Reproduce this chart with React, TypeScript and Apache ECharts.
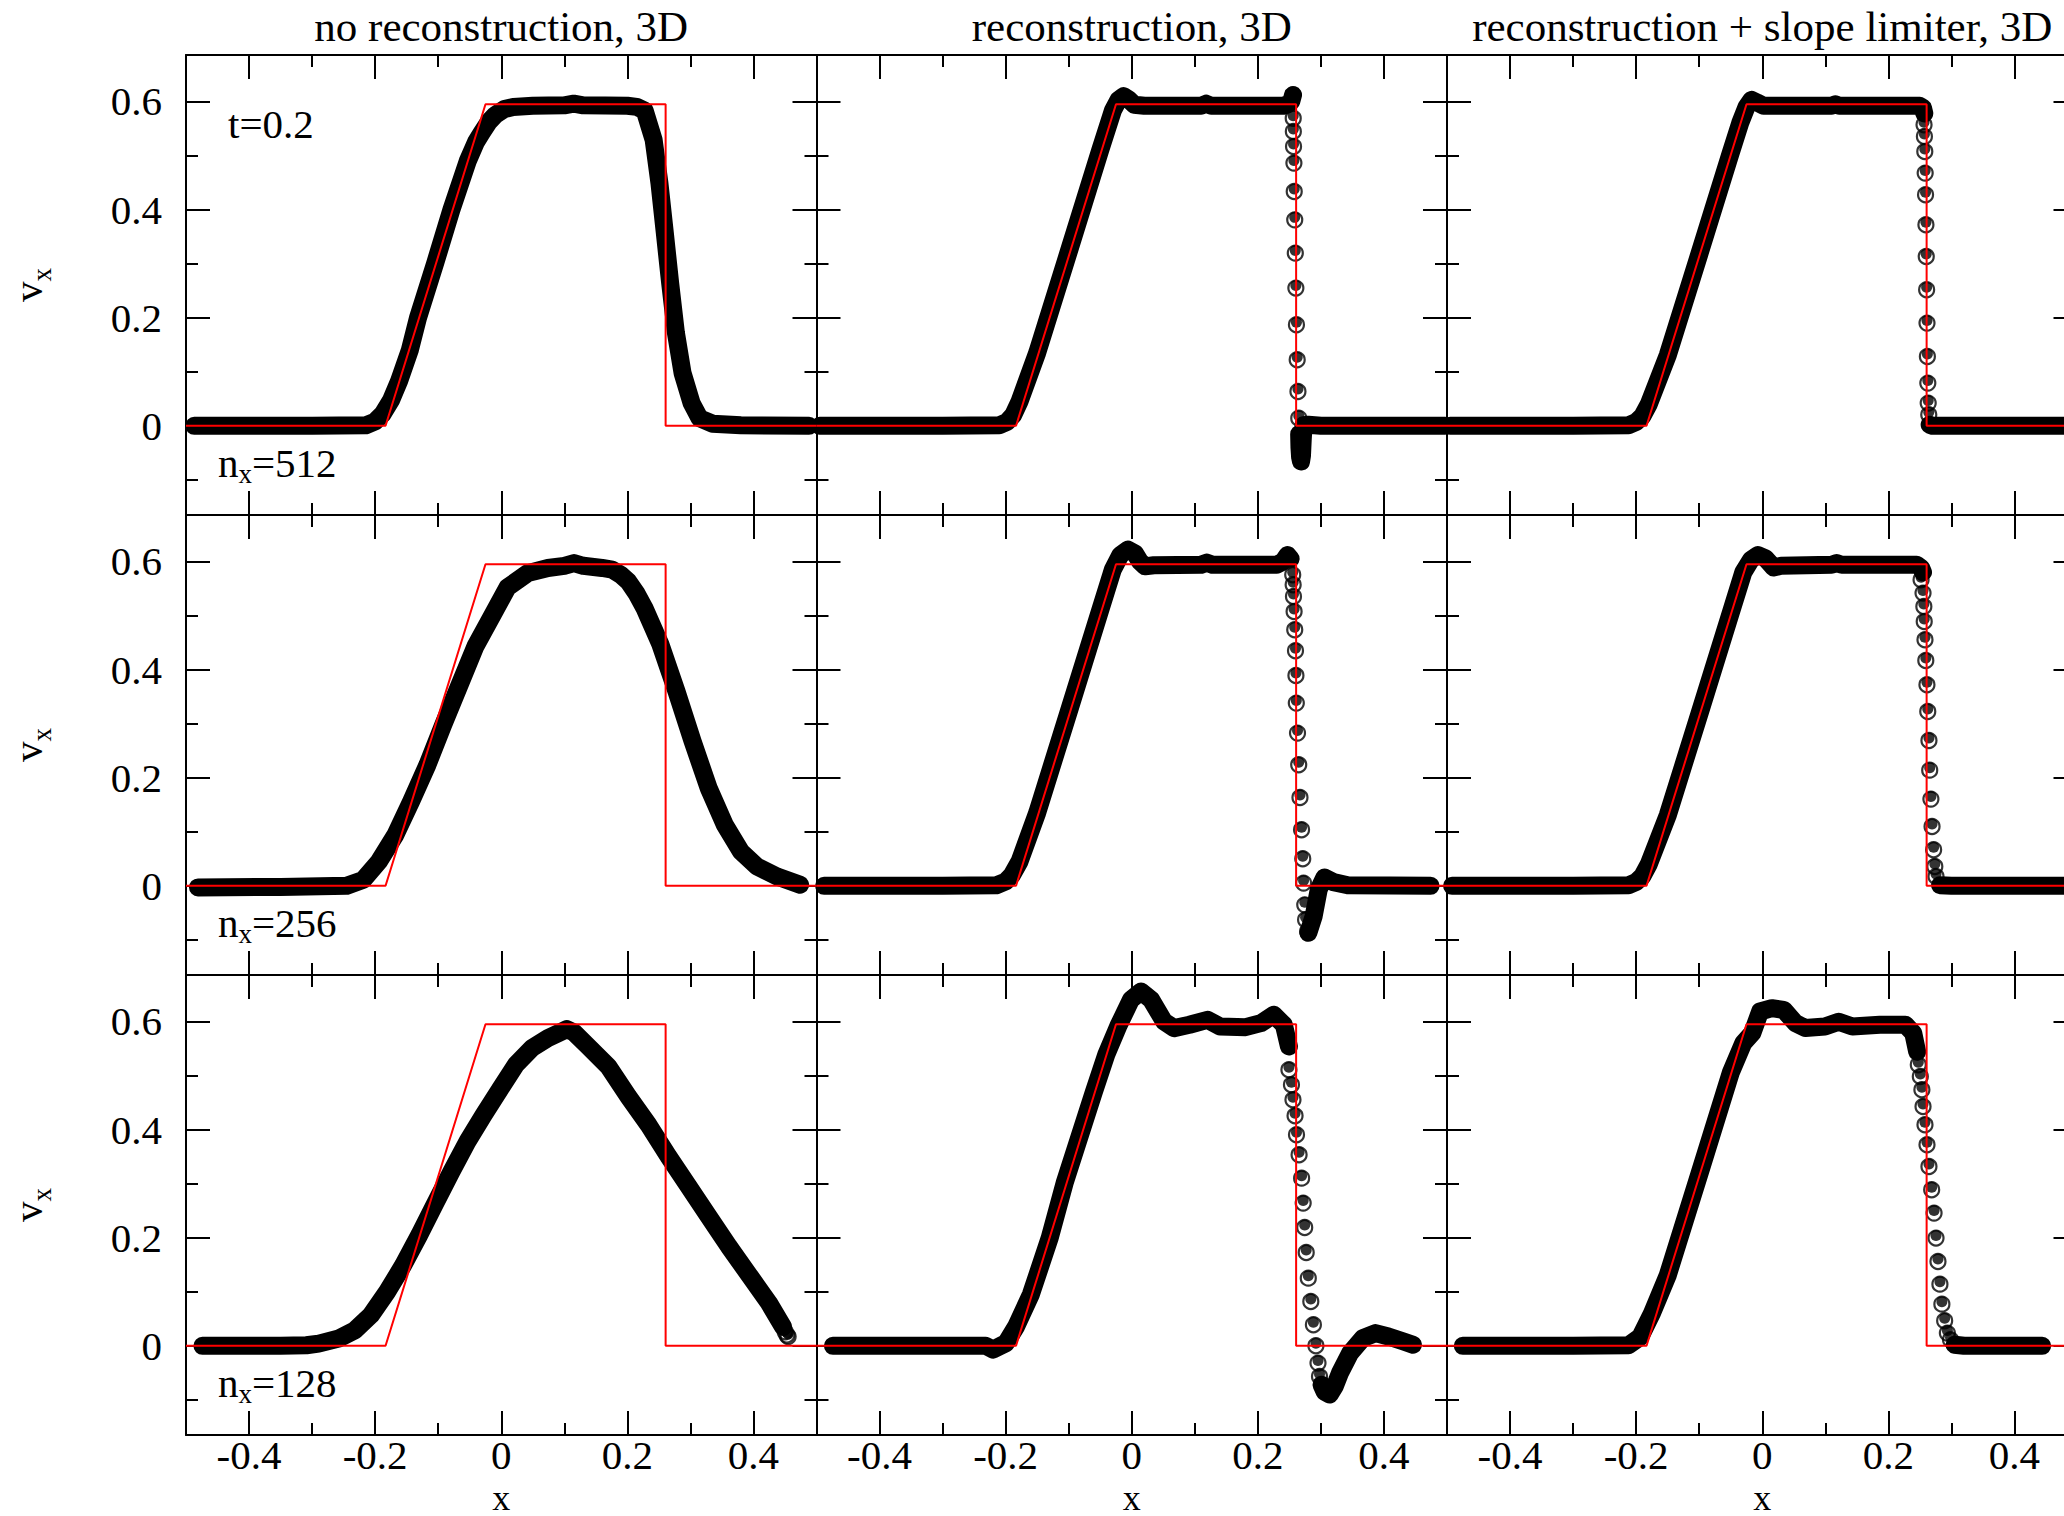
import React, { useEffect, useRef } from 'react';
import * as echarts from 'echarts';

// ---------- axes ----------
const X_MIN = -0.5;
const X_MAX = 0.5;
const Y_MIN = -0.165;
const Y_MAX = 0.686;
const X_MAJOR_TICKS = [-0.4, -0.2, 0, 0.2, 0.4];
const X_MINOR_TICKS = [-0.3, -0.1, 0.1, 0.3];
const Y_MAJOR_TICKS = [0, 0.2, 0.4, 0.6];
const Y_MINOR_TICKS = [-0.1, 0.1, 0.3, 0.5];

// ---------- texts ----------
const COLUMN_TITLES = ['no reconstruction, 3D', 'reconstruction, 3D', 'reconstruction + slope limiter, 3D'];
const ROW_RESOLUTIONS = ['512', '256', '128'];
const TIME_LABEL = 't=0.2';
const X_NAME = 'x';

// ---------- exact solution (red) ----------
const EXACT_X = [-0.5, -0.1835, -0.025, 0.2607, 0.2607, 0.5];
const EXACT_Y = [0, 0, 0.595, 0.595, 0, 0];

// ---------- numerical solution, n_x = 512 ----------
const BAND_512_NONE = [[
  [-0.487, 0], [-0.3, 0], [-0.215, 0.001], [-0.2, 0.008], [-0.188, 0.022], [-0.175, 0.047], [-0.162, 0.083],
  [-0.145, 0.14], [-0.132, 0.2], [-0.105, 0.3], [-0.079, 0.4], [-0.053, 0.49], [-0.04, 0.525], [-0.031, 0.542],
  [-0.02, 0.562], [-0.0095, 0.575], [0.005, 0.586], [0.019, 0.59], [0.05, 0.592], [0.1, 0.593], [0.115, 0.596],
  [0.13, 0.593], [0.2, 0.592], [0.215, 0.59], [0.2275, 0.583], [0.2417, 0.529], [0.2509, 0.449], [0.2594, 0.357],
  [0.2679, 0.264], [0.277, 0.172], [0.2876, 0.0975], [0.3019, 0.042], [0.3146, 0.014], [0.335, 0.004],
  [0.38, 0.001], [0.488, 0],
]];
const DOTS_512_NONE: number[][] = [];

const BAND_512_RECON = [
  [
    [-0.495, 0], [-0.3, 0], [-0.21, 0.001], [-0.198, 0.007], [-0.188, 0.02], [-0.178, 0.045], [-0.15, 0.135],
    [-0.1, 0.322], [-0.05, 0.51], [-0.03, 0.583], [-0.021, 0.603], [-0.013, 0.61], [-0.005, 0.604], [0.004, 0.594],
    [0.02, 0.592], [0.11, 0.592], [0.118, 0.596], [0.126, 0.592], [0.24, 0.592], [0.248, 0.595], [0.253, 0.6],
    [0.2558, 0.612],
  ],
  [
    [0.2655, -0.015], [0.266, -0.04], [0.267, -0.058], [0.2685, -0.066], [0.27, -0.055], [0.2712, -0.025],
    [0.2725, 0.001], [0.28, 0.002], [0.3, 0], [0.497, 0],
  ],
];
const DOTS_512_RECON = [
  [0.2561, 0.569], [0.2563, 0.5445], [0.2566, 0.5168], [0.2572, 0.486], [0.2577, 0.4335], [0.2585, 0.381],
  [0.2594, 0.3195], [0.2603, 0.2548], [0.2612, 0.1869], [0.2624, 0.1221], [0.2636, 0.0635], [0.2649, 0.0142],
];

const BAND_512_LIMITER = [
  [
    [-0.495, 0], [-0.3, 0], [-0.212, 0.001], [-0.2, 0.007], [-0.19, 0.018], [-0.18, 0.04], [-0.15, 0.13],
    [-0.1, 0.317], [-0.05, 0.505], [-0.035, 0.56], [-0.025, 0.59], [-0.017, 0.603], [-0.008, 0.598],
    [0.002, 0.592], [0.11, 0.592], [0.116, 0.595], [0.122, 0.592], [0.25, 0.592], [0.255, 0.588], [0.257, 0.578],
  ],
  [[0.2655, 0.002], [0.27, 0], [0.5, 0]],
];
const DOTS_512_LIMITER = [
  [0.2566, 0.557], [0.2572, 0.5353], [0.2578, 0.5075], [0.2584, 0.4675], [0.259, 0.4274], [0.2596, 0.3719],
  [0.2601, 0.3133], [0.2607, 0.2516], [0.2613, 0.19], [0.2619, 0.1283], [0.2626, 0.079], [0.2632, 0.042],
  [0.2641, 0.0204],
];

// ---------- numerical solution, n_x = 256 ----------
const BAND_256_NONE = [[
  [-0.481, -0.003], [-0.35, -0.002], [-0.245, 0], [-0.219, 0.011], [-0.194, 0.045], [-0.168, 0.094],
  [-0.143, 0.156], [-0.117, 0.224], [-0.092, 0.298], [-0.066, 0.372], [-0.041, 0.443], [-0.012, 0.505],
  [0.01, 0.552], [0.042, 0.5785], [0.074, 0.588], [0.1, 0.592], [0.1154, 0.597], [0.13, 0.592], [0.16, 0.588],
  [0.176, 0.585], [0.19, 0.575], [0.2015, 0.563], [0.215, 0.54], [0.227, 0.514], [0.2526, 0.446],
  [0.278, 0.3595], [0.3036, 0.267], [0.329, 0.1807], [0.3546, 0.1129], [0.38, 0.0635], [0.4056, 0.0357],
  [0.4375, 0.0172], [0.474, 0.002],
]];
const DOTS_256_NONE: number[][] = [];

const BAND_256_RECON = [
  [
    [-0.488, 0], [-0.3, 0], [-0.215, 0.001], [-0.2, 0.008], [-0.19, 0.02], [-0.178, 0.045], [-0.15, 0.135],
    [-0.1, 0.322], [-0.05, 0.51], [-0.03, 0.585], [-0.018, 0.612], [-0.006, 0.622], [0.005, 0.615],
    [0.013, 0.6], [0.021, 0.591], [0.035, 0.593], [0.11, 0.594], [0.119, 0.598], [0.128, 0.594], [0.23, 0.594],
    [0.24, 0.6], [0.247, 0.612], [0.252, 0.605],
  ],
  [
    [0.2801, -0.087], [0.2884, -0.0568], [0.2967, -0.0062], [0.3056, 0.0154], [0.32, 0.0068], [0.3426, 0.001],
    [0.474, 0],
  ],
];
const DOTS_256_RECON = [
  [0.2553, 0.5754], [0.256, 0.5569], [0.2565, 0.5353], [0.2575, 0.5075], [0.2585, 0.4736], [0.2597, 0.4348],
  [0.2604, 0.3891], [0.261, 0.338], [0.2629, 0.2825], [0.2648, 0.2239], [0.2668, 0.1634], [0.2693, 0.1036],
  [0.2712, 0.05], [0.2725, 0.005], [0.2744, -0.0352], [0.2757, -0.0629], [0.2789, -0.0845],
];

const BAND_256_LIMITER = [
  [
    [-0.492, 0], [-0.3, 0], [-0.212, 0.001], [-0.2, 0.007], [-0.19, 0.018], [-0.18, 0.04], [-0.15, 0.13],
    [-0.1, 0.317], [-0.05, 0.505], [-0.03, 0.58], [-0.018, 0.603], [-0.007, 0.612], [0.005, 0.606],
    [0.018, 0.589], [0.03, 0.592], [0.11, 0.594], [0.118, 0.597], [0.126, 0.594], [0.245, 0.594],
    [0.252, 0.588], [0.255, 0.58],
  ],
  [[0.282, 0.001], [0.3, 0], [0.497, 0]],
];
const DOTS_256_LIMITER = [
  [0.2519, 0.5661], [0.255, 0.5415], [0.2563, 0.5168], [0.2569, 0.489], [0.2581, 0.4551], [0.2594, 0.4168],
  [0.2612, 0.3719], [0.2625, 0.3225], [0.2644, 0.2689], [0.2656, 0.214], [0.2675, 0.1604], [0.2693, 0.1097],
  [0.2718, 0.0666], [0.2737, 0.0357], [0.2756, 0.0172],
];

// ---------- numerical solution, n_x = 128 ----------
const BAND_128_NONE = [[
  [-0.474, 0], [-0.35, 0], [-0.309, 0.001], [-0.2895, 0.004], [-0.2577, 0.0135], [-0.232, 0.029],
  [-0.2066, 0.057], [-0.181, 0.1], [-0.1556, 0.149], [-0.13, 0.205], [-0.1046, 0.2638], [-0.079, 0.3224],
  [-0.0536, 0.3779], [-0.028, 0.427], [-0.0026, 0.4736], [0.023, 0.5198], [0.0485, 0.5507], [0.074, 0.5692],
  [0.09, 0.578], [0.104, 0.586], [0.115, 0.58], [0.1378, 0.554], [0.1696, 0.517], [0.2015, 0.4613],
  [0.2334, 0.4089], [0.2653, 0.3503], [0.2972, 0.2948], [0.329, 0.2393], [0.361, 0.1838], [0.3929, 0.1313],
  [0.4247, 0.079], [0.447, 0.035],
]];
const DOTS_128_NONE = [[0.4503, 0.026], [0.453, 0.02], [0.455, 0.017]];

const BAND_128_RECON = [
  [
    [-0.474, 0], [-0.3, 0], [-0.2318, 0], [-0.2197, -0.007], [-0.1995, 0.005], [-0.1834, 0.0358],
    [-0.16, 0.095], [-0.13, 0.2], [-0.1065, 0.301], [-0.06, 0.47], [-0.04, 0.54], [-0.0216, 0.5908],
    [-0.0014, 0.6401], [0.0147, 0.6555], [0.0309, 0.6401], [0.0512, 0.6], [0.0673, 0.5877], [0.0916, 0.5939],
    [0.12, 0.6031], [0.1401, 0.5908], [0.1805, 0.5895], [0.2048, 0.5969], [0.2251, 0.6124], [0.2412, 0.5939],
    [0.2493, 0.5538],
  ],
  [
    [0.301, -0.072], [0.306, -0.085], [0.314, -0.09], [0.322, -0.075], [0.3301, -0.0506], [0.3463, -0.0136],
    [0.3666, 0.0142], [0.3867, 0.0235], [0.407, 0.0173], [0.4311, 0.008], [0.446, 0.002],
  ],
];
const DOTS_128_RECON = [
  [0.2493, 0.5106], [0.2533, 0.4829], [0.2557, 0.4551], [0.259, 0.4255], [0.2613, 0.3904], [0.2654, 0.3534],
  [0.2694, 0.3102], [0.2719, 0.264], [0.2743, 0.2189], [0.2767, 0.1726], [0.28, 0.1252], [0.284, 0.082],
  [0.2881, 0.0389], [0.2921, 0], [0.2954, -0.032], [0.2978, -0.0567],
];

const BAND_128_LIMITER = [
  [
    [-0.475, 0], [-0.3, 0], [-0.212, 0.001], [-0.1933, 0.0166], [-0.175, 0.06], [-0.15, 0.13], [-0.1, 0.317],
    [-0.05, 0.505], [-0.03, 0.56], [-0.0158, 0.5785], [-0.0034, 0.6185], [0.0153, 0.6247], [0.034, 0.6216],
    [0.0527, 0.597], [0.0682, 0.588], [0.0994, 0.5908], [0.1212, 0.5995], [0.143, 0.5908], [0.1865, 0.594],
    [0.227, 0.594], [0.2395, 0.5785], [0.2457, 0.544],
  ],
  [[0.305, 0.002], [0.32, 0], [0.444, 0]],
];
const DOTS_128_LIMITER = [
  [0.2475, 0.5199], [0.2507, 0.4983], [0.2532, 0.4736], [0.255, 0.4428], [0.2581, 0.4089], [0.2613, 0.3719],
  [0.2644, 0.3317], [0.2687, 0.2886], [0.2725, 0.2455], [0.2756, 0.1993], [0.2787, 0.156], [0.2818, 0.1141],
  [0.2849, 0.0771], [0.2893, 0.0463], [0.2936, 0.0235], [0.2986, 0.0111],
];

const PANELS = [
  [
    { band: BAND_512_NONE, dots: DOTS_512_NONE },
    { band: BAND_512_RECON, dots: DOTS_512_RECON },
    { band: BAND_512_LIMITER, dots: DOTS_512_LIMITER },
  ],
  [
    { band: BAND_256_NONE, dots: DOTS_256_NONE },
    { band: BAND_256_RECON, dots: DOTS_256_RECON },
    { band: BAND_256_LIMITER, dots: DOTS_256_LIMITER },
  ],
  [
    { band: BAND_128_NONE, dots: DOTS_128_NONE },
    { band: BAND_128_RECON, dots: DOTS_128_RECON },
    { band: BAND_128_LIMITER, dots: DOTS_128_LIMITER },
  ],
];

// ---------- layout ----------
const COL_LEFT = [186, 816.5, 1447];
const ROW_TOP = [55, 515, 975];
const PANEL_W = 630.5;
const PANEL_H = 460;
const FONT = '"Liberation Serif", "Times New Roman", serif';
const FS = 41;
const TITLE_FS = 43;
const SUB_FS = 27;
const XNAME_FS = 36;

function buildOption() {
  const grid: any[] = [];
  const xAxis: any[] = [];
  const yAxis: any[] = [];
  const series: any[] = [];
  const graphic: any[] = [];

  const tickLine = { color: '#000', width: 2 };
  const labelStyle = { color: '#000', fontFamily: FONT, fontSize: FS };

  for (let r = 0; r < 3; r++) {
    for (let c = 0; c < 3; c++) {
      const gi = grid.length;
      grid.push({
        left: COL_LEFT[c], top: ROW_TOP[r], width: PANEL_W, height: PANEL_H,
        containLabel: false, outerBoundsMode: 'none',
      });

      const mkX = (position: string, ticks: number[], len: number, showLine: boolean, showLabel: boolean) => {
        xAxis.push({
          type: 'value', gridIndex: gi, position, min: X_MIN, max: X_MAX,
          splitLine: { show: false },
          axisLine: { show: showLine, onZero: false, lineStyle: { color: '#000', width: 2 } },
          axisTick: { show: true, inside: true, length: len, customValues: ticks, lineStyle: tickLine },
          axisLabel: showLabel
            ? { show: true, customValues: ticks, margin: 5, lineHeight: 30, ...labelStyle }
            : { show: false },
        });
        return xAxis.length - 1;
      };
      const mkY = (position: string, ticks: number[], len: number, showLine: boolean, showLabel: boolean) => {
        yAxis.push({
          type: 'value', gridIndex: gi, position, min: Y_MIN, max: Y_MAX,
          splitLine: { show: false },
          axisLine: { show: showLine, onZero: false, lineStyle: { color: '#000', width: 2 } },
          axisTick: { show: true, inside: true, length: len, customValues: ticks, lineStyle: tickLine },
          axisLabel: showLabel
            ? { show: true, customValues: ticks, margin: 24, lineHeight: 30, padding: [0, 0, 6, 0], ...labelStyle }
            : { show: false },
        });
        return yAxis.length - 1;
      };

      const xi = mkX('bottom', X_MAJOR_TICKS, 24, true, r === 2);
      mkX('bottom', X_MINOR_TICKS, 12, false, false);
      mkX('top', X_MAJOR_TICKS, 24, true, false);
      mkX('top', X_MINOR_TICKS, 12, false, false);
      const yi = mkY('left', Y_MAJOR_TICKS, 24, true, c === 0);
      mkY('left', Y_MINOR_TICKS, 12, false, false);
      mkY('right', Y_MAJOR_TICKS, 24, true, false);
      mkY('right', Y_MINOR_TICKS, 12, false, false);

      const panel = PANELS[r][c];
      panel.band.forEach((seg: number[][]) => {
        series.push({
          type: 'line', xAxisIndex: xi, yAxisIndex: yi, data: seg,
          symbol: 'none', showSymbol: false, clip: false, silent: true, z: 2, smooth: false,
          lineStyle: { color: '#000', width: 18, cap: 'round', join: 'round' },
          emphasis: { disabled: true },
        });
      });
      if (panel.dots.length) {
        series.push({
          type: 'scatter', xAxisIndex: xi, yAxisIndex: yi, data: panel.dots,
          symbol: 'circle', symbolSize: 15, clip: false, silent: true, z: 3,
          itemStyle: { color: 'rgba(0,0,0,0)', borderColor: '#000', borderWidth: 2.2 },
          emphasis: { disabled: true },
        });
        series.push({
          type: 'scatter', xAxisIndex: xi, yAxisIndex: yi, data: panel.dots,
          symbol: 'circle', symbolSize: 11, symbolOffset: [0, -2.5], clip: false, silent: true, z: 3,
          itemStyle: { color: '#000' },
          emphasis: { disabled: true },
        });
      }
      series.push({
        type: 'line', xAxisIndex: xi, yAxisIndex: yi,
        data: EXACT_X.map((x, i) => [x, EXACT_Y[i]]),
        symbol: 'none', showSymbol: false, silent: true, z: 5, clip: false,
        lineStyle: { color: '#ff0000', width: 2 },
        emphasis: { disabled: true },
      });
    }
  }

  const font = (s: number) => `${s}px ${FONT}`;

  COLUMN_TITLES.forEach((t, c) => {
    graphic.push({
      type: 'text', x: COL_LEFT[c] + PANEL_W / 2, y: 26, silent: true,
      style: { text: t, font: font(TITLE_FS), fill: '#000', align: 'center', verticalAlign: 'middle' },
    });
    graphic.push({
      type: 'text', x: COL_LEFT[c] + PANEL_W / 2, y: 1497.5, silent: true,
      style: { text: X_NAME, font: font(XNAME_FS), fill: '#000', align: 'center', verticalAlign: 'middle' },
    });
  });

  graphic.push({
    type: 'text', x: 228, y: 124, silent: true,
    style: { text: TIME_LABEL, font: font(FS), fill: '#000', align: 'left', verticalAlign: 'middle' },
  });

  ROW_RESOLUTIONS.forEach((n, r) => {
    const base = 475 + r * 460;
    graphic.push({
      type: 'text', x: 218, y: base - 12.5, silent: true,
      style: { text: 'n', font: font(FS), fill: '#000', align: 'left', verticalAlign: 'middle' },
    });
    graphic.push({
      type: 'text', x: 238.5, y: base + 6.7 - 8.2, silent: true,
      style: { text: 'x', font: font(SUB_FS), fill: '#000', align: 'left', verticalAlign: 'middle' },
    });
    graphic.push({
      type: 'text', x: 252, y: base - 12.5, silent: true,
      style: { text: '=' + n, font: font(FS), fill: '#000', align: 'left', verticalAlign: 'middle' },
    });
    graphic.push({
      type: 'group', x: 40.5, y: 302 + r * 460, rotation: Math.PI / 2, silent: true,
      children: [
        {
          type: 'text', x: 0, y: -12.5,
          style: { text: 'v', font: font(FS), fill: '#000', align: 'left', verticalAlign: 'middle' },
        },
        {
          type: 'text', x: 20.5, y: 1.8,
          style: { text: 'x', font: font(SUB_FS), fill: '#000', align: 'left', verticalAlign: 'middle' },
        },
      ],
    });
  });

  return {
    animation: false,
    backgroundColor: '#fff',
    grid, xAxis, yAxis, series, graphic,
  };
}

export default function App() {
  const ref = useRef<HTMLDivElement>(null);
  useEffect(() => {
    if (!ref.current) return;
    const chart = echarts.init(ref.current, null, { renderer: 'svg' });
    chart.setOption(buildOption() as any);
    return () => chart.dispose();
  }, []);
  return (
    <div
      ref={ref}
      style={{ position: 'absolute', left: 0, top: 0, width: 2064, height: 1516, background: '#fff' }}
    />
  );
}
